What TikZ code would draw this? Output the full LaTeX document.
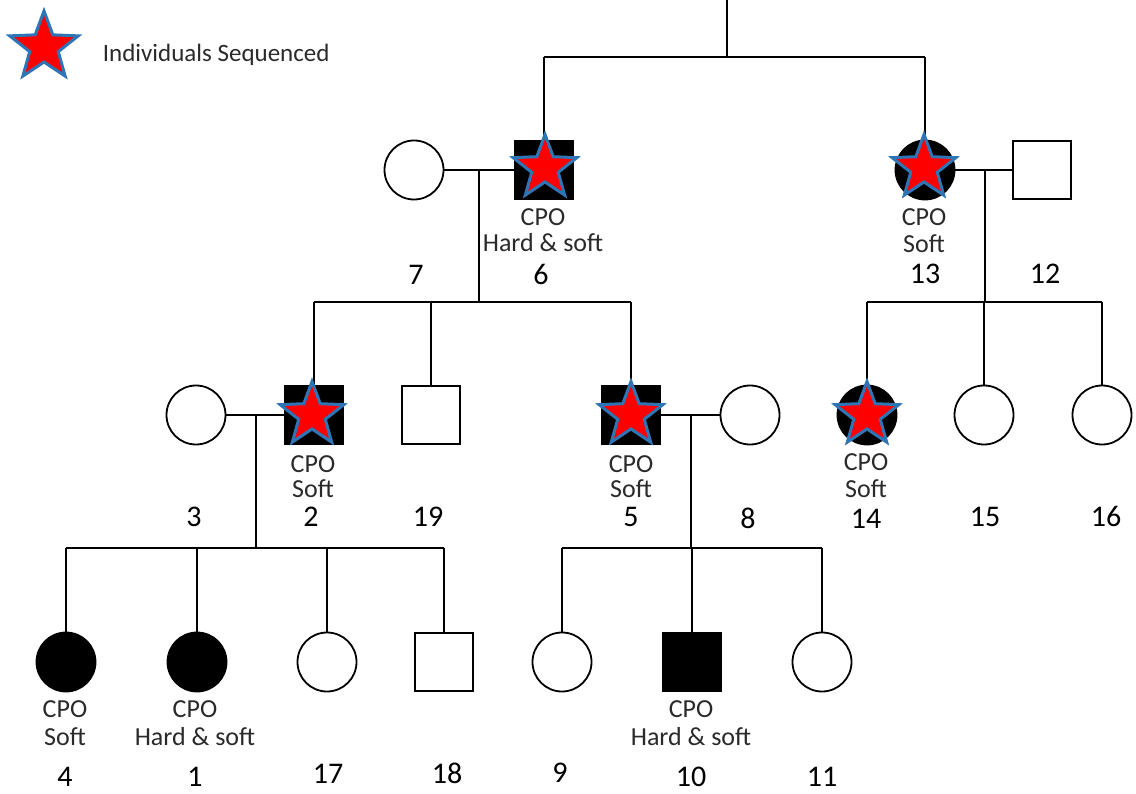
\documentclass[tikz,border=0pt]{standalone}
\usepackage{fontspec}
\setmainfont{Carlito}
\usetikzlibrary{shapes.geometric}
\definecolor{starblue}{HTML}{2E75B6}
\definecolor{lbl}{HTML}{2A2A2A}
\begin{document}
\begin{tikzpicture}[x=1pt,y=-1pt,
  line width=1.8pt,
  fem/.style={circle,draw,minimum size=59pt,inner sep=0pt,fill=white},
  mal/.style={rectangle,draw,minimum size=58pt,inner sep=0pt,fill=white},
  aff/.style={fill=black},
  seq/.style={star,star points=5,star point ratio=2.4,minimum size=67pt,inner sep=0pt,draw=starblue,fill=red,line width=3pt},
  cpo/.style={anchor=base,text=lbl,font=\fontsize{26}{28}\selectfont,inner sep=0pt},
  num/.style={anchor=base,font=\fontsize{30}{32}\selectfont,inner sep=0pt}
]
\useasboundingbox (0,0) rectangle (1136,794);

% legend
\node[seq,minimum size=72pt] (LS) at (44,47) {};
\node[anchor=base west,inner sep=0pt,font=\fontsize{25}{27}\selectfont,text=lbl] (LT) at (102,62) {Individuals Sequenced};

% generation 1
\node[fem] (I7) at (414,170) {};
\node[mal,aff] (I6) at (544,170) {};
\node[fem,aff] (I13) at (925,170) {};
\node[mal] (I12) at (1042,170) {};

% generation 2
\node[fem] (I3) at (196,415) {};
\node[mal,aff] (I2) at (314,415) {};
\node[mal] (I19) at (431,415) {};
\node[mal,aff] (I5) at (631,415) {};
\node[fem] (I8) at (750,415) {};
\node[fem,aff] (I14) at (867,415) {};
\node[fem] (I15) at (984,415) {};
\node[fem] (I16) at (1102,415) {};

% generation 3
\node[fem,aff] (I4) at (66,662) {};
\node[fem,aff] (I1) at (197,662) {};
\node[fem] (I17) at (327,662) {};
\node[mal] (I18) at (444,662) {};
\node[fem] (I9) at (562,662) {};
\node[mal,aff] (I10) at (692,662) {};
\node[fem] (I11) at (822,662) {};

% junction coordinates
\coordinate (top) at (727,0);
\coordinate (bar0) at (727,57);
\coordinate (j1) at (479,170);
\coordinate (bar1) at (479,302);
\coordinate (j2) at (985,170);
\coordinate (bar2) at (985,302);
\coordinate (j3) at (256,415);
\coordinate (bar3) at (256,548);
\coordinate (j4) at (691,415);
\coordinate (bar4) at (691,548);

% connectors
\draw (top) -- (bar0);
\draw (I6.north |- bar0) -- (I13.north |- bar0);
\foreach \c in {I6,I13} \draw (\c.north |- bar0) -- (\c.north);

\draw (I7) -- (I6);
\draw (j1) -- (bar1);
\draw (I2.north |- bar1) -- (I5.north |- bar1);
\foreach \c in {I2,I19,I5} \draw (\c.north |- bar1) -- (\c.north);

\draw (I13) -- (I12);
\draw (j2) -- (bar2);
\draw (I14.north |- bar2) -- (I16.north |- bar2);
\foreach \c in {I14,I15,I16} \draw (\c.north |- bar2) -- (\c.north);

\draw (I3) -- (I2);
\draw (j3) -- (bar3);
\draw (I4.north |- bar3) -- (I18.north |- bar3);
\foreach \c in {I4,I1,I17,I18} \draw (\c.north |- bar3) -- (\c.north);

\draw (I5) -- (I8);
\draw (j4) -- (bar4);
\draw (I9.north |- bar4) -- (I11.north |- bar4);
\foreach \c in {I9,I10,I11} \draw (\c.north |- bar4) -- (\c.north);

% stars (sequenced)
\node[seq] (S6) at (545,168) {};
\node[seq] (S13) at (924,168) {};
\node[seq] (S2) at (312,415) {};
\node[seq] (S5) at (631,415) {};
\node[seq] (S14) at (867,415) {};

% phenotype labels
\node[cpo] (L6a) at (543,226) {CPO};
\node[cpo] (L6b) at (543,252) {Hard \& soft};
\node[cpo] (L13a) at (924,226) {CPO};
\node[cpo] (L13b) at (924,253) {Soft};
\node[cpo] (L2a) at (313,472) {CPO};
\node[cpo] (L2b) at (313,497) {Soft};
\node[cpo] (L5a) at (631,472) {CPO};
\node[cpo] (L5b) at (631,497) {Soft};
\node[cpo] (L14a) at (866,471) {CPO};
\node[cpo] (L14b) at (866,497) {Soft};
\node[cpo] (L4a) at (65,717) {CPO};
\node[cpo] (L4b) at (65,745) {Soft};
\node[cpo] (L1a) at (195,717) {CPO};
\node[cpo] (L1b) at (195,745) {Hard \& soft};
\node[cpo] (L10a) at (691,717) {CPO};
\node[cpo] (L10b) at (691,745) {Hard \& soft};

% numbers
\node[num] (N7) at (416,285) {7};
\node[num] (N6) at (541,285) {6};
\node[num] (N13) at (925,284) {13};
\node[num] (N12) at (1045,284) {12};
\node[num] (N3) at (194,526) {3};
\node[num] (N2) at (311,526) {2};
\node[num] (N19) at (428,526) {19};
\node[num] (N5) at (631,526) {5};
\node[num] (N8) at (748,528) {8};
\node[num] (N14) at (866,528) {14};
\node[num] (N15) at (985,526) {15};
\node[num] (N16) at (1106,526) {16};
\node[num] (N4) at (65,786) {4};
\node[num] (N1) at (195,786) {1};
\node[num] (N17) at (328,783) {17};
\node[num] (N18) at (447,783) {18};
\node[num] (N9) at (560,782) {9};
\node[num] (N10) at (691,786) {10};
\node[num] (N11) at (822,786) {11};
\end{tikzpicture}
\end{document}
